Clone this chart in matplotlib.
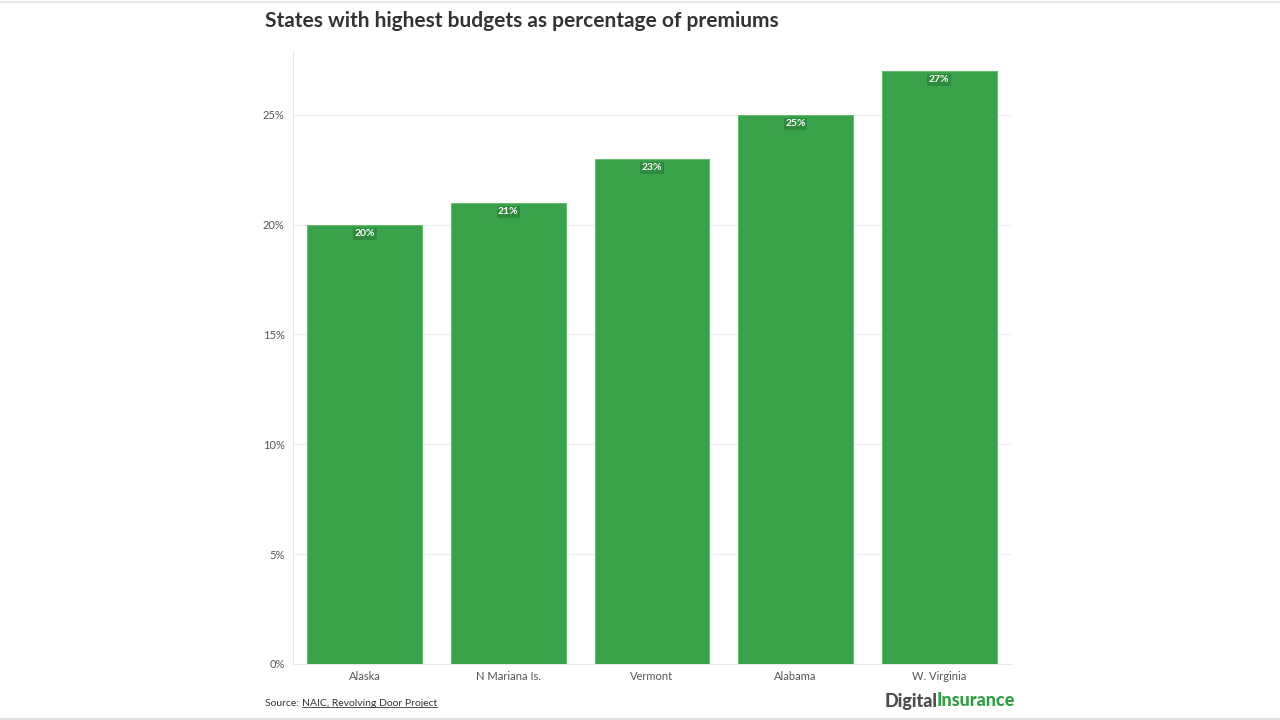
import matplotlib
matplotlib.use("Agg")
import matplotlib.pyplot as plt
from matplotlib.ticker import FuncFormatter, MultipleLocator
from matplotlib.lines import Line2D

categories = ["Alaska", "N Mariana Is.", "Vermont", "Alabama", "W. Virginia"]
values = [20, 21, 23, 25, 27]
labels = ["20%", "21%", "23%", "25%", "27%"]

plt.rcParams['font.family'] = ['Lato', 'DejaVu Sans']

fig = plt.figure(figsize=(12.8, 7.2), dpi=100)
ax = fig.add_axes([293/1280, 1-664/720, (1011-293)/1280, (664-51)/720])

green = "#38a34a"
bars = ax.bar(range(len(categories)), values, width=0.8, color=green,
              edgecolor="#5bb76a", linewidth=0.6, zorder=3)

for i, (v, lab) in enumerate(zip(values, labels)):
    ax.annotate(lab, xy=(i, v), xytext=(0, -6.5), textcoords="offset points",
                ha="center", va="center", fontsize=7.5, fontweight="bold",
                color="white", zorder=4,
                bbox=dict(boxstyle="square,pad=0.15", fc="#2e8a3d", ec="none"))

ax.set_xlim(-0.5, 4.5)
ax.set_ylim(0, 27.9)
ax.yaxis.set_major_locator(MultipleLocator(5))
ax.yaxis.set_major_formatter(FuncFormatter(lambda v, p: f"{v:.0f}%"))
ax.set_xticks(range(len(categories)))
ax.set_xticklabels(categories)
ax.tick_params(axis="both", length=0, labelsize=8, labelcolor="#555555")
ax.tick_params(axis="x", pad=5)
ax.tick_params(axis="y", pad=6)
ax.grid(axis="y", color="#eeeeee", linewidth=0.8, zorder=0)
for s in ["top", "right"]:
    ax.spines[s].set_visible(False)
ax.spines["left"].set_color("#e6e6e6")
ax.spines["bottom"].set_color("#e6e6e6")
ax.spines["left"].set_linewidth(0.8)
ax.spines["bottom"].set_linewidth(0.8)

fig.text(265/1280, 1-21/720, "States with highest budgets as percentage of premiums",
         fontsize=15, fontweight="bold", color="#333333", ha="left", va="center")

r = fig.canvas.get_renderer()
t1 = fig.text(265/1280, 1-703/720, "Source: ", fontsize=7.5, color="#333333",
              ha="left", va="center")
bb = t1.get_window_extent(r)
t2 = fig.text(bb.x1/1280, 1-703/720, "NAIC, Revolving Door Project", fontsize=7.5,
              color="#333333", ha="left", va="center")
bb2 = t2.get_window_extent(r)
fig.add_artist(Line2D([bb2.x0/1280, bb2.x1/1280], [(bb2.y0 + 0.5)/720]*2,
                      color="#333333", linewidth=0.6, transform=fig.transFigure))

# logo
t_ins = fig.text(1015/1280, 1-701/720, "Insurance", fontsize=13, fontweight="black",
                 color="#2f9e44", ha="right", va="center")
bb3 = t_ins.get_window_extent(r)
fig.text((bb3.x0 + 0.5)/1280, 1-701/720, "Digital", fontsize=13, fontweight="black",
         color="#4d4d4d", ha="right", va="center")

# frame lines
fig.add_artist(Line2D([0, 1], [1-1.5/720]*2, color="#e6e6e6", linewidth=1.5,
                      transform=fig.transFigure))
fig.add_artist(Line2D([0, 1], [1.5/720]*2, color="#e0e0e0", linewidth=1.5,
                      transform=fig.transFigure))

fig.savefig("out.png", dpi=100)
